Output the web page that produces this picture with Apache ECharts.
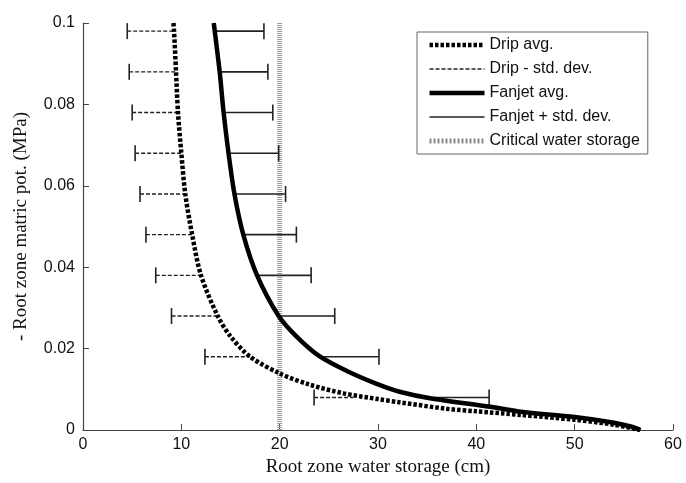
<!DOCTYPE html>
<html>
<head>
<meta charset="utf-8">
<script src="https://cdn.jsdelivr.net/npm/echarts@6/dist/echarts.min.js"></script>
<style>
  html, body { margin: 0; padding: 0; background: #fff; }
  #chart { width: 686px; height: 483px; }
</style>
</head>
<body>
<div id="chart"></div>
<script>
// averaged curves (x = water storage cm, y = -matric pot. MPa)
var dripCurveY = [0.1, 0.098, 0.088, 0.078, 0.068, 0.058, 0.048, 0.038, 0.028, 0.023, 0.018, 0.0139, 0.0111, 0.009, 0.0076, 0.0068, 0.0052, 0.0046, 0.0037, 0.0025, 0.0013, 0];
var dripCurveX = [9.2, 9.26, 9.46, 9.66, 10.0, 10.4, 11.1, 12.0, 13.7, 15.0, 17.0, 20.0, 23.1, 26.5, 30.0, 32.2, 37.0, 40, 44.5, 50, 54, 56.6];
var fanCurveY = [0.1, 0.098, 0.088, 0.078, 0.068, 0.058, 0.048, 0.038, 0.028, 0.023, 0.0182, 0.0143, 0.0112, 0.0094, 0.0078, 0.0057, 0.0045, 0.0032, 0.0018, 0.0008, 0];
var fanCurveX = [13.3, 13.4, 13.9, 14.3, 14.8, 15.4, 16.3, 17.7, 19.9, 21.7, 24.0, 27.0, 30.0, 32.2, 35.3, 41.4, 44.5, 50, 54, 55.8, 56.7];

// error bars
var barY = [0.098, 0.088, 0.078, 0.068, 0.058, 0.048, 0.038, 0.028, 0.018, 0.008];
var dripBarAvg = [9.26, 9.46, 9.66, 10.0, 10.4, 11.1, 12.0, 13.7, 17.0, 27.5];
var dripBarLow = [4.5, 4.7, 5.0, 5.3, 5.8, 6.4, 7.4, 9.0, 12.4, 23.5];
var fanBarAvg = [13.4, 13.9, 14.3, 14.8, 15.4, 16.3, 17.7, 19.9, 24.1, 35.6];
var fanBarHigh = [18.4, 18.8, 19.3, 19.9, 20.6, 21.7, 23.2, 25.6, 30.1, 41.3];

var criticalStorage = 20;
var xTicks = [0, 60, 10];
var yTicks = [0, 0.1, 0.02];

function pairs(xs, ys) {
    return xs.map(function (x, i) { return [x, ys[i]]; });
}
function segments(a, b, ys) {
    var out = [];
    ys.forEach(function (y, i) {
        out.push([a[i], y], [b[i], y], null);
    });
    return out;
}
function capSeries(xs) {
    return {
        type: 'custom',
        data: pairs(xs, barY),
        silent: true,
        z: 4,
        renderItem: function (params, api) {
            var p = api.coord([api.value(0), api.value(1)]);
            return {
                type: 'line',
                shape: { x1: p[0], y1: p[1] - 8, x2: p[0], y2: p[1] + 8 },
                style: { stroke: '#222', lineWidth: 1.6 }
            };
        }
    };
}

var serifFont = '"Liberation Serif", "DejaVu Serif", serif';
var sansFont = '"Liberation Sans", Arial, sans-serif';

var chart = echarts.init(document.getElementById('chart'));
var option = {
    animation: false,
    grid: { left: 83, right: 13, top: 23, bottom: 53, containLabel: false },
    legend: {
        orient: 'vertical',
        left: 417,
        top: 32,
        itemWidth: 55,
        itemHeight: 14,
        itemGap: 8,
        padding: [5, 8, 5, 10],
        borderColor: '#666',
        borderWidth: 1,
        itemStyle: { opacity: 0 },
        textStyle: { fontFamily: sansFont, fontSize: 16, color: '#111' },
        data: [
            { name: 'Drip avg.', lineStyle: { width: 4.5, type: [3.5, 2], color: '#000' } },
            { name: 'Drip - std. dev.', lineStyle: { width: 1.4, type: [4, 2], color: '#222' } },
            { name: 'Fanjet avg.', lineStyle: { width: 4.5, type: 'solid', color: '#000' } },
            { name: 'Fanjet + std. dev.', lineStyle: { width: 1.6, type: 'solid', color: '#222' } },
            { name: 'Critical water storage', lineStyle: { width: 5, type: [2, 2], color: '#8a8a8a' } }
        ]
    },
    xAxis: {
        type: 'value',
        min: xTicks[0], max: xTicks[1], interval: xTicks[2],
        name: 'Root zone water storage (cm)',
        nameLocation: 'middle',
        nameGap: 26,
        nameTextStyle: { fontFamily: serifFont, fontSize: 19, color: '#111' },
        axisLine: { lineStyle: { color: '#444', width: 1.2 } },
        axisTick: { inside: true, length: 6, lineStyle: { color: '#444' } },
        axisLabel: { fontFamily: sansFont, fontSize: 16, color: '#111', margin: 7 },
        splitLine: { show: false }
    },
    yAxis: {
        type: 'value',
        min: yTicks[0], max: yTicks[1], interval: yTicks[2],
        name: '- Root zone matric pot. (MPa)',
        nameLocation: 'middle',
        nameGap: 52,
        nameTextStyle: { fontFamily: serifFont, fontSize: 19, color: '#111' },
        axisLine: { show: true, lineStyle: { color: '#444', width: 1.2 } },
        axisTick: { show: true, inside: true, length: 6, lineStyle: { color: '#444' } },
        axisLabel: { fontFamily: sansFont, fontSize: 16, color: '#111', margin: 8 },
        splitLine: { show: false }
    },
    series: [
        {
            name: 'Critical water storage',
            type: 'line',
            data: [[criticalStorage, yTicks[0]], [criticalStorage, yTicks[1]]],
            symbol: 'none',
            z: 1,
            lineStyle: { color: '#9a9a9a', width: 5, type: [1, 1] },
            itemStyle: { color: '#9a9a9a' }
        },
        {
            name: 'Drip - std. dev.',
            type: 'line',
            data: segments(dripBarLow, dripBarAvg, barY),
            symbol: 'none',
            connectNulls: false,
            z: 3,
            lineStyle: { color: '#222', width: 1.4, type: [4, 2] },
            itemStyle: { color: '#222' }
        },
        {
            name: 'Fanjet + std. dev.',
            type: 'line',
            data: segments(fanBarAvg, fanBarHigh, barY),
            symbol: 'none',
            connectNulls: false,
            z: 3,
            lineStyle: { color: '#222', width: 1.6 },
            itemStyle: { color: '#222' }
        },
        capSeries(dripBarLow),
        capSeries(fanBarHigh),
        {
            name: 'Drip avg.',
            type: 'line',
            data: pairs(dripCurveX, dripCurveY),
            symbol: 'none',
            smooth: 0.3,
            z: 5,
            lineStyle: { color: '#000', width: 4.5, type: [3.5, 2] },
            itemStyle: { color: '#000' }
        },
        {
            name: 'Fanjet avg.',
            type: 'line',
            data: pairs(fanCurveX, fanCurveY),
            symbol: 'none',
            smooth: 0.3,
            z: 5,
            lineStyle: { color: '#000', width: 4.5 },
            itemStyle: { color: '#000' }
        }
    ]
};
chart.setOption(option);
</script>
</body>
</html>
